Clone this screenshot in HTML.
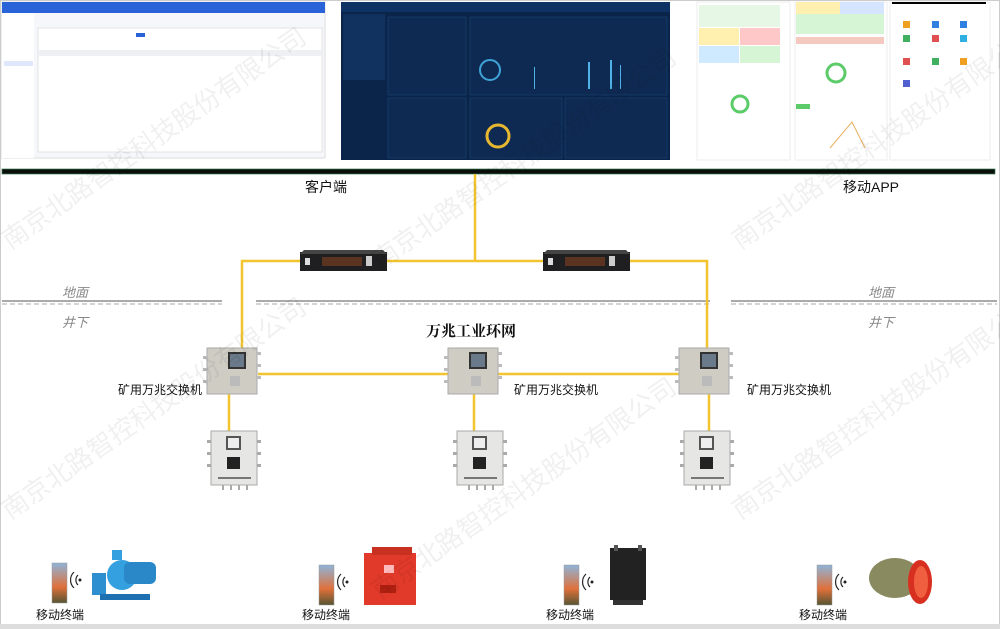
<!DOCTYPE html>
<html><head><meta charset="utf-8"><style>
body{margin:0;width:1000px;height:629px;overflow:hidden;background:#fff;font-family:"Liberation Sans","Noto Sans CJK SC",sans-serif;}
.t{position:absolute;font-size:12px;color:#111;white-space:nowrap}
.i{font-style:italic;color:#888;font-size:13px}
</style></head><body>
<svg width="1000" height="629" style="position:absolute;left:0;top:0" xmlns="http://www.w3.org/2000/svg">
<rect x="0.5" y="0.5" width="999" height="627" fill="#fff" stroke="#ccc"/>
<rect x="0" y="624" width="1000" height="5" fill="#ddd"/>
<!-- left screenshot -->
<rect x="2" y="2" width="323" height="156" fill="#f6f7fa" stroke="#ddd"/>
<rect x="2" y="2" width="323" height="11" fill="#2a62d8"/>
<rect x="38" y="28" width="284" height="124" fill="#fff" stroke="#e3e3e3"/>
<rect x="38" y="50" width="284" height="6" fill="#eef0f4"/>
<rect x="2" y="13" width="32" height="145" fill="#fff"/>
<rect x="4" y="61" width="29" height="5" fill="#dfe8fb"/>
<rect x="136" y="33" width="9" height="4" fill="#2a62d8"/>
<!-- middle dashboard -->
<rect x="341" y="2" width="329" height="158" fill="#0b2449"/>
<rect x="341" y="2" width="329" height="10" fill="#0e3263"/>
<rect x="343" y="14" width="42" height="66" fill="#11325e"/>
<rect x="388" y="17" width="78" height="78" fill="#0f2a52" stroke="#1d4a80" stroke-width=".5"/>
<rect x="470" y="17" width="197" height="78" fill="#0f2a52" stroke="#1d4a80" stroke-width=".5"/>
<rect x="388" y="98" width="78" height="60" fill="#0f2a52" stroke="#1d4a80" stroke-width=".5"/>
<rect x="470" y="98" width="92" height="60" fill="#0f2a52" stroke="#1d4a80" stroke-width=".5"/>
<rect x="565" y="98" width="102" height="60" fill="#0f2a52" stroke="#1d4a80" stroke-width=".5"/>
<circle cx="490" cy="70" r="10" fill="none" stroke="#3fa3d8" stroke-width="2"/>
<circle cx="498" cy="136" r="11" fill="none" stroke="#e8b730" stroke-width="3"/>
<g fill="#4fb3e8"><rect x="534" y="67" width="1" height="22"/><rect x="588" y="62" width="2" height="27"/><rect x="610" y="60" width="2" height="29"/><rect x="620" y="65" width="1" height="24"/></g>
<!-- phones -->
<rect x="697" y="2" width="93" height="158" fill="#fff" stroke="#eee"/>
<rect x="699" y="28" width="40" height="17" fill="#fff0b0"/><rect x="740" y="28" width="40" height="17" fill="#ffc8c8"/>
<rect x="699" y="46" width="40" height="17" fill="#cfe9ff"/><rect x="740" y="46" width="40" height="17" fill="#d5f5d5"/>
<rect x="699" y="5" width="81" height="22" fill="#e6f7e6"/>
<circle cx="740" cy="104" r="8" fill="none" stroke="#5ccc6a" stroke-width="3"/>
<rect x="795" y="2" width="92" height="158" fill="#fff" stroke="#eee"/>
<rect x="796" y="2" width="44" height="12" fill="#fff0b0"/><rect x="840" y="2" width="44" height="12" fill="#d5e5ff"/>
<rect x="796" y="14" width="88" height="20" fill="#d5f5d5"/>
<rect x="796" y="37" width="88" height="7" fill="#f4c9c0"/>
<circle cx="836" cy="73" r="9" fill="none" stroke="#5ccc6a" stroke-width="3"/>
<rect x="796" y="104" width="14" height="5" fill="#5ccc6a"/>
<polyline points="830,148 852,122 865,148" fill="none" stroke="#e8b060"/>
<rect x="890" y="2" width="100" height="158" fill="#fff" stroke="#eee"/>
<rect x="892" y="2" width="94" height="2" fill="#000"/>
<g fill="#f0a020"><rect x="903" y="21" width="7" height="7"/><rect x="932" y="21" width="7" height="7" fill="#3080e0"/><rect x="960" y="21" width="7" height="7" fill="#3080e0"/>
<rect x="903" y="35" width="7" height="7" fill="#40b060"/><rect x="932" y="35" width="7" height="7" fill="#e05050"/><rect x="960" y="35" width="7" height="7" fill="#30b0e0"/>
<rect x="903" y="58" width="7" height="7" fill="#e05050"/><rect x="932" y="58" width="7" height="7" fill="#40b060"/><rect x="960" y="58" width="7" height="7"/><rect x="903" y="80" width="7" height="7" fill="#5060d0"/></g>
<!-- black bar -->
<rect x="2" y="169" width="993" height="5" fill="#0a0f0c" stroke="#3a7a50" stroke-width=".7"/>
<!-- ground lines -->
<g stroke="#555" stroke-width="1"><line x1="2" y1="301" x2="222" y2="301"/><line x1="256" y1="301" x2="710" y2="301"/><line x1="731" y1="301" x2="997" y2="301"/></g>
<g stroke="#aaa" stroke-width="1" stroke-dasharray="5,3"><line x1="2" y1="304" x2="222" y2="304"/><line x1="256" y1="304" x2="710" y2="304"/><line x1="731" y1="304" x2="997" y2="304"/></g>
<!-- yellow links -->
<g stroke="#f2c530" stroke-width="2.5" fill="none">
<line x1="475" y1="174" x2="475" y2="261"/>
<polyline points="242,358 242,261 707,261 707,352"/>
<line x1="258" y1="374" x2="680" y2="374"/>
<line x1="229" y1="393" x2="229" y2="432"/><line x1="474" y1="393" x2="474" y2="432"/><line x1="709" y1="393" x2="709" y2="432"/>
</g>
<!-- routers -->
<g id="r"><rect x="300" y="252" width="87" height="19" fill="#1f1f22"/><polygon points="304,250 383,250 387,254 300,254" fill="#444"/>
<rect x="322" y="257" width="40" height="9" fill="#5a3420"/><rect x="305" y="258" width="5" height="7" fill="#ddd"/><rect x="366" y="256" width="6" height="10" fill="#ccc"/></g>
<use href="#r" x="243" y="0"/>
<!-- switches -->
<g id="s"><rect x="207" y="348" width="50" height="46" fill="#cfccc4" stroke="#aaa"/><rect x="228" y="352" width="18" height="17" fill="#333"/><rect x="230" y="354" width="14" height="13" fill="#6b7a8a"/><rect x="230" y="376" width="10" height="10" fill="#bbb"/>
<g fill="#bbb"><rect x="203" y="356" width="4" height="3"/><rect x="203" y="368" width="4" height="3"/><rect x="203" y="380" width="4" height="3"/><rect x="257" y="352" width="4" height="3"/><rect x="257" y="364" width="4" height="3"/><rect x="257" y="376" width="4" height="3"/></g></g>
<use href="#s" x="241" y="0"/><use href="#s" x="472" y="0"/>
<!-- lower boxes -->
<g id="b"><rect x="211" y="431" width="46" height="54" fill="#e6e6e4" stroke="#aaa"/><rect x="226" y="436" width="15" height="14" fill="#555"/><rect x="228" y="438" width="11" height="10" fill="#eee"/><rect x="227" y="457" width="13" height="12" fill="#222"/><rect x="218" y="477" width="33" height="2" fill="#777"/>
<g fill="#aaa"><rect x="207" y="440" width="4" height="3"/><rect x="207" y="452" width="4" height="3"/><rect x="207" y="464" width="4" height="3"/><rect x="257" y="440" width="4" height="3"/><rect x="257" y="452" width="4" height="3"/><rect x="257" y="464" width="4" height="3"/><rect x="222" y="485" width="2" height="5"/><rect x="230" y="485" width="2" height="5"/><rect x="238" y="485" width="2" height="5"/><rect x="246" y="485" width="2" height="5"/></g></g>
<use href="#b" x="246" y="0"/><use href="#b" x="473" y="0"/>
<!-- phones bottom -->
<defs><linearGradient id="ph" x1="0" y1="0" x2="0" y2="1"><stop offset="0" stop-color="#8fb4d8"/><stop offset=".6" stop-color="#e0703a"/><stop offset="1" stop-color="#553"/></linearGradient></defs>
<g id="p"><rect x="52" y="563" width="15" height="40" fill="url(#ph)" stroke="#999" stroke-width=".5"/><path d="M78,575 a7,7 0 0 0 0,10 M74,572 a11,11 0 0 0 0,16" fill="none" stroke="#222" stroke-width="1.2"/><circle cx="80" cy="580" r="1.5" fill="#222"/></g>
<use href="#p" x="267" y="2"/><use href="#p" x="512" y="2"/><use href="#p" x="765" y="2"/>
<!-- pump -->
<rect x="92" y="573" width="14" height="22" fill="#2e8fd0"/><circle cx="122" cy="575" r="15" fill="#35a0e0"/><rect x="124" y="562" width="32" height="22" rx="6" fill="#2a88c8"/><rect x="100" y="594" width="50" height="6" fill="#1f70b0"/><rect x="112" y="550" width="10" height="10" fill="#35a0e0"/>
<!-- red box -->
<rect x="364" y="553" width="52" height="52" fill="#e23a2a"/><rect x="372" y="547" width="40" height="8" fill="#c8301f"/><rect x="384" y="565" width="10" height="8" fill="#fbb"/><rect x="380" y="585" width="16" height="8" fill="#b02010"/>
<!-- black unit -->
<rect x="610" y="548" width="36" height="52" fill="#222"/><rect x="614" y="545" width="4" height="6" fill="#555"/><rect x="638" y="545" width="4" height="6" fill="#555"/><rect x="613" y="600" width="30" height="5" fill="#333"/>
<!-- fan -->
<ellipse cx="895" cy="578" rx="26" ry="20" fill="#8a8a60"/><ellipse cx="920" cy="582" rx="12" ry="22" fill="#d83020"/><ellipse cx="921" cy="582" rx="7" ry="16" fill="#f06040"/>
<!-- watermarks -->
<g font-size="26" fill="#000" fill-opacity=".06" font-family="Liberation Sans,Noto Sans CJK SC,sans-serif">
<text transform="translate(10,250) rotate(-35)">南京北路智控科技股份有限公司</text>
<text transform="translate(380,270) rotate(-35)">南京北路智控科技股份有限公司</text>
<text transform="translate(740,250) rotate(-35)">南京北路智控科技股份有限公司</text>
<text transform="translate(10,520) rotate(-35)">南京北路智控科技股份有限公司</text>
<text transform="translate(380,600) rotate(-35)">南京北路智控科技股份有限公司</text>
<text transform="translate(740,520) rotate(-35)">南京北路智控科技股份有限公司</text>
</g>
</svg>
<div class="t" style="left:305px;top:177px;font-size:14px">客户端</div>
<div class="t" style="left:843px;top:177px;font-size:14px">移动APP</div>
<div class="t i" style="left:62px;top:282px">地面</div>
<div class="t i" style="left:62px;top:312px">井下</div>
<div class="t i" style="left:868px;top:282px">地面</div>
<div class="t i" style="left:868px;top:312px">井下</div>
<div class="t" style="left:426px;top:320px;font-size:15px;font-weight:bold;font-family:'Liberation Serif','Noto Serif CJK SC',serif">万兆工业环网</div>
<div class="t" style="left:118px;top:381px">矿用万兆交换机</div>
<div class="t" style="left:514px;top:381px">矿用万兆交换机</div>
<div class="t" style="left:747px;top:381px">矿用万兆交换机</div>
<div class="t" style="left:36px;top:606px">移动终端</div>
<div class="t" style="left:302px;top:606px">移动终端</div>
<div class="t" style="left:546px;top:606px">移动终端</div>
<div class="t" style="left:799px;top:606px">移动终端</div>
</body></html>
